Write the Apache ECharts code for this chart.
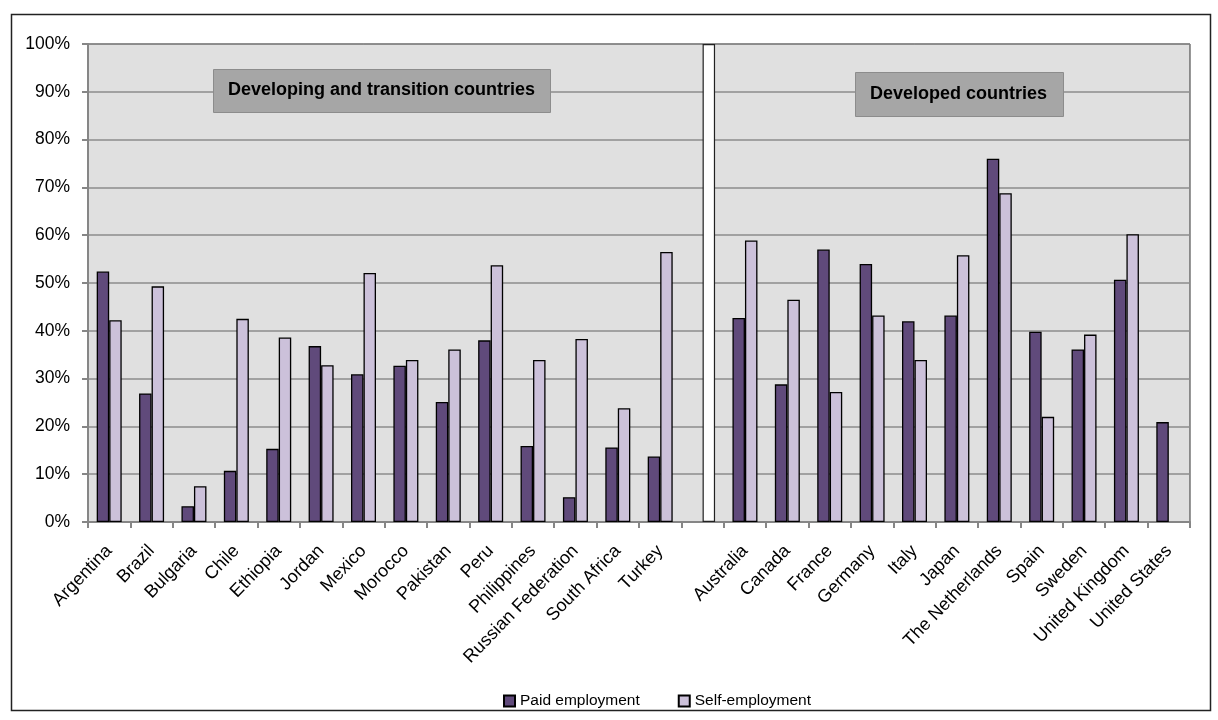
<!DOCTYPE html>
<html>
<head>
<meta charset="utf-8">
<script src="https://cdn.jsdelivr.net/npm/echarts@6/dist/echarts.min.js"></script>
<style>
html,body{margin:0;padding:0;background:#fff;}
#chart{width:1218px;height:720px;}
</style>
</head>
<body>
<div id="chart"></div>
<script>
// Categories ('' marks the gap between the two country groups)
const categories = ['Argentina','Brazil','Bulgaria','Chile','Ethiopia','Jordan','Mexico','Morocco','Pakistan','Peru','Philippines','Russian Federation','South Africa','Turkey','',
  'Australia','Canada','France','Germany','Italy','Japan','The Netherlands','Spain','Sweden','United Kingdom','United States'];
const paidEmployment = [52.4, 26.9, 3.3, 10.7, 15.3, 36.8, 30.9, 32.7, 25.1, 38.0, 15.9, 5.2, 15.6, 13.7, null,
  42.7, 28.8, 57.0, 54.0, 42.0, 43.2, 76.0, 39.8, 36.1, 50.7, 20.9];
const selfEmployment = [42.2, 49.3, 7.5, 42.5, 38.6, 32.8, 52.1, 33.9, 36.1, 53.7, 33.9, 38.3, 23.8, 56.5, null,
  58.9, 46.5, 27.2, 43.2, 33.9, 55.8, 68.8, 22.0, 39.2, 60.2, null];
const separatorIndex = 14;
const separatorValue = 100;
const yTicks = {min: 0, max: 100, interval: 10};
const groupTitles = ['Developing and transition countries', 'Developed countries'];
const seriesNames = ['Paid employment', 'Self-employment'];

const separatorData = categories.map((c, i) => i === separatorIndex ? separatorValue : null);

const chart = echarts.init(document.getElementById('chart'), null, {renderer: 'canvas'});
const FONT = 'Liberation Sans, Arial, sans-serif';

chart.setOption({
  backgroundColor: '#ffffff',
  animation: false,
  textStyle: {fontFamily: FONT},
  grid: {
    left: 88, right: 28, top: 44, bottom: 198,
    show: true, backgroundColor: '#e0e0e0', borderColor: '#333', borderWidth: 1
  },
  legend: {
    data: seriesNames,
    left: 498, top: 688,
    itemWidth: 11, itemHeight: 11, itemGap: 38,
    icon: 'rect',
    textStyle: {fontFamily: FONT, fontSize: 15.5, color: '#000'}
  },
  xAxis: {
    type: 'category',
    data: categories,
    axisLine: {lineStyle: {color: '#868686', width: 2}},
    axisTick: {show: true, length: 6, lineStyle: {color: '#868686', width: 2}},
    axisLabel: {rotate: 46, interval: 0, fontSize: 18, color: '#000', fontFamily: FONT, margin: 26}
  },
  yAxis: {
    type: 'value',
    min: yTicks.min, max: yTicks.max, interval: yTicks.interval,
    axisLine: {show: true, lineStyle: {color: '#868686', width: 2}},
    axisTick: {show: true, length: 6, lineStyle: {color: '#868686', width: 2}},
    axisLabel: {formatter: '{value}%', fontSize: 17.5, color: '#000', fontFamily: FONT, margin: 18},
    splitLine: {lineStyle: {color: '#8c8c8c', width: 1.5}}
  },
  series: [
    {
      name: seriesNames[0], type: 'bar', data: paidEmployment,
      barWidth: 12.5, barGap: '0%',
      itemStyle: {color: '#604a7b', borderColor: '#000', borderWidth: 1.3}
    },
    {
      name: seriesNames[1], type: 'bar', data: selfEmployment, stack: 's',
      barWidth: 12.5, barGap: '0%',
      itemStyle: {color: '#ccc1da', borderColor: '#000', borderWidth: 1.3}
    },
    {
      name: 'separator', type: 'bar', data: separatorData, stack: 's',
      barWidth: 12.5, barGap: '0%', z: 3,
      itemStyle: {color: '#ffffff', borderColor: '#222', borderWidth: 1.2}
    }
  ],
  graphic: [
    {
      type: 'rect', left: 9, top: 12, z: 100, silent: true,
      shape: {width: 1199, height: 696},
      style: {fill: 'none', stroke: '#222', lineWidth: 1.5}
    },
    {
      type: 'rect', left: 213, top: 69, z: 100,
      shape: {width: 337, height: 43},
      style: {fill: '#a6a6a6', stroke: '#8c8c8c', lineWidth: 1}
    },
    {
      type: 'text', left: 228, top: 81, z: 101,
      style: {text: groupTitles[0], fill: '#000', font: 'bold 18px ' + FONT}
    },
    {
      type: 'rect', left: 855, top: 72, z: 100,
      shape: {width: 208, height: 44},
      style: {fill: '#a6a6a6', stroke: '#8c8c8c', lineWidth: 1}
    },
    {
      type: 'text', left: 870, top: 85, z: 101,
      style: {text: groupTitles[1], fill: '#000', font: 'bold 18px ' + FONT}
    }
  ]
});
</script>
</body>
</html>
